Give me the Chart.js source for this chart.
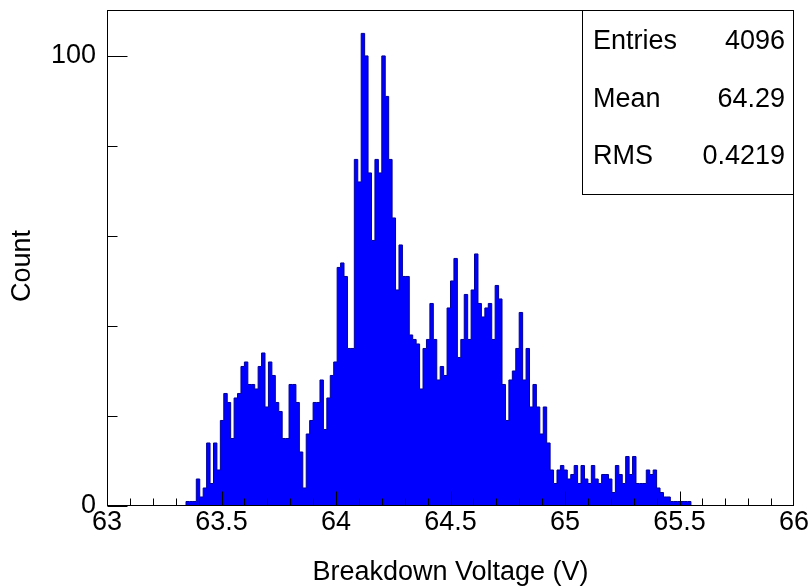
<!DOCTYPE html>
<html><head><meta charset="utf-8">
<script src="https://cdn.jsdelivr.net/npm/chart.js@4/dist/chart.umd.min.js"></script>
<style>html,body{margin:0;padding:0;background:#fff;}canvas{display:block;}</style>
</head><body>
<canvas id="c" width="811" height="587"></canvas>
<script>
// ---- data ----
const xMin = 63, xMax = 66, binWidth = 0.015;
const firstBin = 23; // index of first listed bin (bins of 0.015 V from 63 V)
const counts = [
  1,1,1,6,2,4,14,5,14,8,19,25,23,15,24,25,31,32,27,27,26,31,34,22,32,29,23,21,15,15,
  27,27,23,12,4,16,19,23,23,28,17,24,29,32,53,54,51,35,35,
  77,72,105,100,74,59,77,74,100,91,77,64,48,58,51,51,38,37,36,
  26,35,37,45,37,28,31,29,44,50,55,33,37,47,37,48,56,45,42,44,45,37,49,46,27,19,28,30,35,
  43,28,35,22,27,22,16,22,14,
  8,5,8,9,8,6,7,9,5,9,6,5,9,6,5,7,7,6,3,9,7,5,11,7,11,5,5,5,8,7,8,4,3,2,2,1,1,1,1,1,1
];
const xTickValues = [63, 63.5, 64, 64.5, 65, 65.5, 66];
const xTickLabels = ['63', '63.5', '64', '64.5', '65', '65.5', '66'];
const yTickValues = [0, 100];
const yTickLabels = ['0', '100'];
const yMinorTicks = [20, 40, 60, 80];
const yMax = 110.2;
const statNames = ['Entries', 'Mean', 'RMS'];
const statValues = ['4096', '64.29', '0.4219'];
const xTitle = 'Breakdown Voltage (V)';
const yTitle = 'Count';

const FONT = "'Liberation Sans', Arial, Helvetica, sans-serif";

// histogram steps: one point per bin at its low edge, closed at the last bin's high edge
const histData = [{ x: xMin + firstBin * binWidth, y: 0 }]
  .concat(counts.map((c, i) => ({ x: xMin + (firstBin + i) * binWidth, y: c })))
  .concat([{ x: xMin + (firstBin + counts.length) * binWidth, y: 0 }]);

const rootPlugin = {
  id: 'rootStyle',
  afterDraw(chart) {
    const { ctx, chartArea: a, scales: { x, y } } = chart;
    ctx.save();
    ctx.strokeStyle = '#000';
    ctx.lineWidth = 1;
    // frame
    ctx.strokeRect(Math.round(a.left) + 0.5, Math.round(a.top) + 0.5,
      Math.round(a.right - a.left) - 1, Math.round(a.bottom - a.top) - 1);
    const by = Math.round(a.bottom) - 0.5;
    const lx = Math.round(a.left) + 0.5;
    ctx.beginPath();
    // x ticks (inside)
    for (let k = 1; k < 30; k++) {
      const v = xMin + k * 0.1;
      const px = Math.round(x.getPixelForValue(v)) + 0.5;
      const major = k % 5 === 0;
      ctx.moveTo(px, by);
      ctx.lineTo(px, by - (major ? 14 : 7));
    }
    // y ticks (inside)
    yTickValues.forEach(v => {
      const py = Math.round(y.getPixelForValue(v)) + 0.5;
      ctx.moveTo(lx, py); ctx.lineTo(lx + 20, py);
    });
    yMinorTicks.forEach(v => {
      const py = Math.round(y.getPixelForValue(v)) + 0.5;
      ctx.moveTo(lx, py); ctx.lineTo(lx + 10, py);
    });
    ctx.stroke();

    // y axis title
    ctx.fillStyle = '#000';
    ctx.font = '27px ' + FONT;
    ctx.save();
    ctx.translate(23, 266);
    ctx.rotate(-Math.PI / 2);
    ctx.textAlign = 'center';
    ctx.textBaseline = 'middle';
    ctx.fillText(yTitle, 0, 0);
    ctx.restore();

    // stats box
    const bx0 = 582, bx1 = Math.round(a.right), by0 = Math.round(a.top), by1 = 195;
    ctx.fillStyle = '#fff';
    ctx.fillRect(bx0, by0, bx1 - bx0, by1 - by0);
    ctx.strokeRect(bx0 + 0.5, by0 + 0.5, bx1 - bx0 - 1, by1 - by0 - 1);
    ctx.fillStyle = '#000';
    ctx.textBaseline = 'middle';
    statNames.forEach((n, i) => {
      const cy = 42 + i * 57.5;
      ctx.textAlign = 'left';
      ctx.fillText(n, bx0 + 11, cy);
      ctx.textAlign = 'right';
      ctx.fillText(statValues[i], bx1 - 9, cy);
    });
    ctx.restore();
  }
};

new Chart(document.getElementById('c'), {
  type: 'line',
  data: {
    datasets: [{
      label: 'Breakdown voltage', data: histData, stepped: 'before',
      borderColor: '#000099', borderWidth: 1, pointRadius: 0,
      fill: 'origin', backgroundColor: '#0000ff'
    }]
  },
  options: {
    responsive: false, animation: false, devicePixelRatio: 1,
    layout: { padding: { left: 46, right: 17, top: 10, bottom: 0 } },
    plugins: { legend: { display: false }, tooltip: { enabled: false } },
    scales: {
      x: {
        type: 'linear', min: xMin, max: xMax, offset: false,
        grid: { display: false, drawTicks: false }, border: { display: false },
        afterBuildTicks: s => { s.ticks = xTickValues.map(v => ({ value: v })); },
        afterFit: s => { s.height = 81; s.paddingLeft = 0; s.paddingRight = 0; },
        ticks: {
          padding: 0, maxRotation: 0, autoSkip: false, color: '#000',
          font: { family: FONT, size: 27 },
          callback: v => xTickLabels[xTickValues.indexOf(v)]
        },
        title: { display: true, text: xTitle, color: '#000', font: { family: FONT, size: 27 }, padding: { top: 0, bottom: -2 } }
      },
      y: {
        min: 0, max: yMax,
        grid: { display: false, drawTicks: false }, border: { display: false },
        afterBuildTicks: s => { s.ticks = yTickValues.map(v => ({ value: v })); },
        afterFit: s => { s.width = 61; s.paddingTop = 0; s.paddingBottom = 0; },
        ticks: {
          padding: 11, color: '#000', font: { family: FONT, size: 27 },
          callback: v => yTickLabels[yTickValues.indexOf(v)]
        },
        title: { display: false, text: yTitle }
      }
    }
  },
  plugins: [rootPlugin]
});
</script>
</body></html>
